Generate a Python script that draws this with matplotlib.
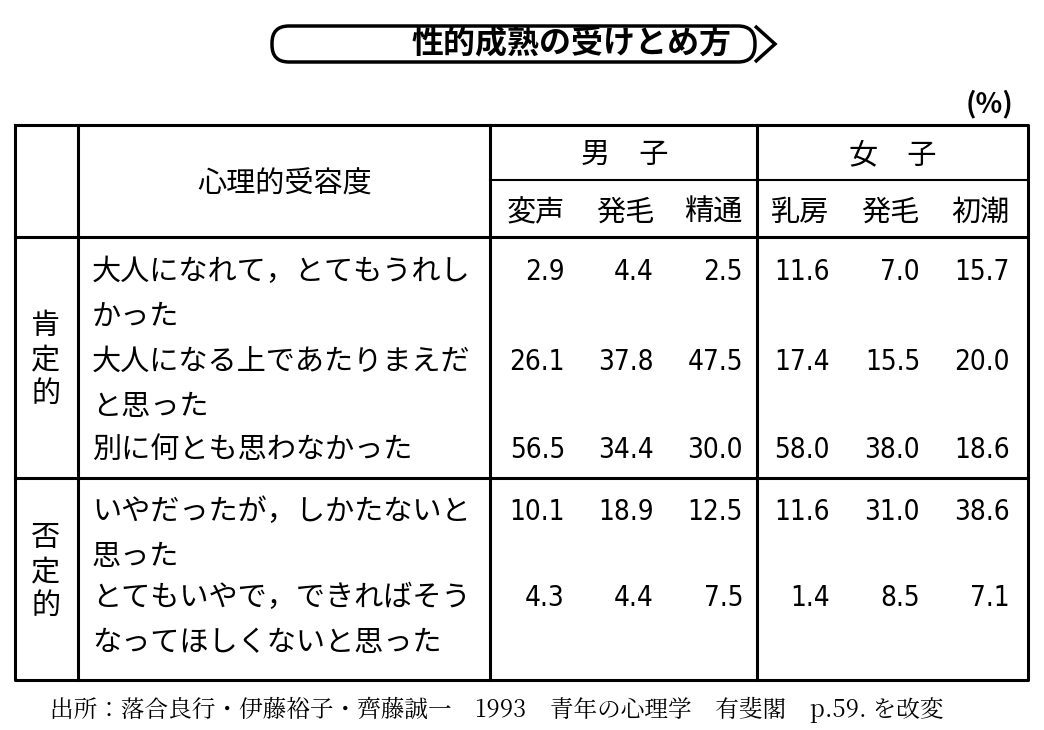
import matplotlib
matplotlib.use("Agg")
import matplotlib.pyplot as plt
from matplotlib.patches import FancyBboxPatch, Polygon

plt.rcParams['font.family'] = ['Noto Sans CJK JP', 'DejaVu Sans']

title = "性的成熟の受けとめ方"
groups = ["男　子", "女　子"]
sub_labels = ["変声", "発毛", "精通", "乳房", "発毛", "初潮"]
row_labels = [
    ["大人になれて，とてもうれし", "かった"],
    ["大人になる上であたりまえだ", "と思った"],
    ["別に何とも思わなかった"],
    ["いやだったが，しかたないと", "思った"],
    ["とてもいやで，できればそう", "なってほしくないと思った"],
]
values = [
    [2.9, 4.4, 2.5, 11.6, 7.0, 15.7],
    [26.1, 37.8, 47.5, 17.4, 15.5, 20.0],
    [56.5, 34.4, 30.0, 58.0, 38.0, 18.6],
    [10.1, 18.9, 12.5, 11.6, 31.0, 38.6],
    [4.3, 4.4, 7.5, 1.4, 8.5, 7.1],
]
source = "出所：落合良行・伊藤裕子・齊藤誠一　1993　青年の心理学　有斐閣　p.59. を改変"

fig = plt.figure(figsize=(10.44, 7.30), dpi=100)
ax = fig.add_axes([0, 0, 1, 1])
ax.set_xlim(0, 1044)
ax.set_ylim(730, 0)
ax.axis('off')

# title box
box = FancyBboxPatch((272, 26), 483, 36, boxstyle="round,pad=0,rounding_size=17",
                     fill=False, lw=2.5, ec='black')
ax.add_patch(box)
ax.add_patch(Polygon([[755, 26], [775, 44], [755, 62]], closed=False, fill=False, lw=2.5))
ax.text(572, 43, title, fontsize=23, fontweight='bold', ha='center', va='center')
ax.text(990, 104, "(%)", fontsize=20, fontweight='bold', ha='center', va='center')

lw = 2.2
L, R, T, B = 15, 1028, 125, 680
ax.plot([L, R, R, L, L], [T, T, B, B, T], color='black', lw=lw)
for x in (78, 490, 757):
    ax.plot([x, x], [T, B], color='black', lw=lw)
ax.plot([490, R], [180, 180], color='black', lw=1.5)
ax.plot([L, R], [237, 237], color='black', lw=lw)
ax.plot([L, R], [478, 478], color='black', lw=lw)

fs = 21
ax.text(285, 185, "心理的受容度", fontsize=fs, ha='center', va='center')
ax.text(625, 155, groups[0], fontsize=fs, ha='center', va='center')
ax.text(893, 155, groups[1], fontsize=fs, ha='center', va='center')
sub_x = [536, 625, 713, 800, 890, 980]
for x, s in zip(sub_x, sub_labels):
    ax.text(x, 213, s, fontsize=fs, ha='center', va='center')

for ch, y in zip("肯定的", [326, 360, 394]):
    ax.text(46, y, ch, fontsize=fs, ha='center', va='center')
for ch, y in zip("否定的", [538, 572, 606]):
    ax.text(46, y, ch, fontsize=fs, ha='center', va='center')

row_y = [272, 362, 450, 512, 598]
num_x = [565, 654, 743, 830, 920, 1010]
for y, lab, vals in zip(row_y, row_labels, values):
    for k, line in enumerate(lab):
        ax.text(92, y + k * 45, line, fontsize=fs, ha='left', va='center')
    for x, v in zip(num_x, vals):
        ax.text(x, y, f"{v:.1f}", fontsize=20, ha='right', va='center',
                family=['DejaVu Sans'], fontstretch='condensed')

ax.text(50, 710, source, fontsize=17, ha='left', va='center',
        family=['Noto Serif CJK JP', 'Noto Sans CJK JP', 'DejaVu Sans'])

fig.savefig("out.png", dpi=100)
